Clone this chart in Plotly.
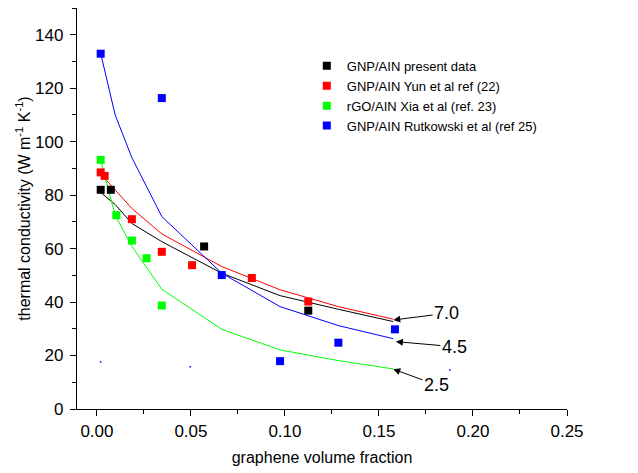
import plotly.graph_objects as go

# ---- measured data ----
black_x = [0.002, 0.0074, 0.057, 0.1124]
black_y = [82.0, 82.0, 60.8, 36.8]
red_x = [0.002, 0.0041, 0.0186, 0.0345, 0.0506, 0.0824, 0.1124]
red_y = [88.5, 87.2, 71.0, 58.8, 53.8, 49.0, 40.2]
green_x = [0.002, 0.0103, 0.0186, 0.0264, 0.0345]
green_y = [93.2, 72.5, 63.0, 56.4, 38.7]
blue_x = [0.002, 0.0345, 0.0664, 0.0974, 0.1284, 0.1585]
blue_y = [132.9, 116.3, 50.1, 17.9, 24.8, 29.8]
dot_x = [0.002, 0.0496, 0.1877]
dot_y = [17.6, 15.8, 14.6]

# model curves
curve_x = [0.002, 0.0097, 0.0186, 0.0345, 0.0664, 0.0974, 0.1284, 0.1576]
curve_black = [81.0, 76.5, 69.4, 62.6, 50.8, 42.4, 37.3, 32.7]
curve_red = [88.0, 82.0, 75.0, 65.5, 53.3, 44.6, 38.3, 33.6]
curve_green = [93.0, 72.5, 60.8, 44.8, 29.8, 22.1, 18.1, 15.0]
curve_blue = [133.0, 110.0, 94.0, 72.0, 50.8, 38.3, 31.2, 26.3]

labels = ["GNP/AIN present data", "GNP/AIN Yun et al ref (22)",
          "rGO/AIN Xia et al (ref. 23)", "GNP/AIN Rutkowski et al (ref 25)"]
colors = ["#000000", "#ff0000", "#00ff00", "#0000ff"]

# annotations: label at text position, arrow pointing to head
ann_labels = ["7.0", "4.5", "2.5"]
ann_text_x = [0.1860, 0.1901, 0.1806]
ann_text_y = [35.8, 23.3, 9.0]
ann_head_x = [0.1576, 0.1590, 0.1576]
ann_head_y = [33.3, 25.2, 14.9]

FONT = "Liberation Sans, Arial, sans-serif"

fig = go.Figure()

for cy, c in zip([curve_black, curve_red, curve_green, curve_blue], colors):
    fig.add_trace(go.Scatter(x=curve_x, y=cy, mode="lines",
                             line=dict(color=c, width=1), showlegend=False,
                             hoverinfo="skip"))

for xs, ys, c, lab in zip([black_x, red_x, green_x, blue_x],
                          [black_y, red_y, green_y, blue_y], colors, labels):
    fig.add_trace(go.Scatter(x=xs, y=ys, mode="markers", name=lab,
                             marker=dict(symbol="square", size=8, color=c,
                                         line=dict(width=0))))

fig.add_trace(go.Scatter(x=dot_x, y=dot_y, mode="markers", showlegend=False,
                         marker=dict(symbol="square", size=1.5, color="#0000ff",
                                     line=dict(width=0))))

for lab, tx, ty, hx, hy in zip(ann_labels, ann_text_x, ann_text_y, ann_head_x, ann_head_y):
    fig.add_annotation(x=hx, y=hy, ax=tx, ay=ty, axref="x", ayref="y",
                       xref="x", yref="y", text=lab, showarrow=True,
                       arrowhead=2, arrowsize=1.4, arrowwidth=1, arrowcolor="black",
                       font=dict(family=FONT, size=18, color="black"))

# page body has an 8px margin, so the figure is 8px smaller and offset
fig.update_layout(
    width=630, height=465,
    margin=dict(l=69, r=71, t=0, b=64),
    paper_bgcolor="white", plot_bgcolor="white",
    font=dict(family=FONT, color="black"),
    legend=dict(x=0.469, y=0.893, xanchor="left", yanchor="top",
                font=dict(family=FONT, size=13, color="black"),
                bgcolor="rgba(0,0,0,0)", itemsizing="trace"),
)

fig.update_xaxes(
    range=[-0.0106, 0.25], showline=True, linecolor="black", linewidth=1.3,
    showgrid=False, zeroline=False, ticks="outside", ticklen=6, tickwidth=1.3,
    tickcolor="black",
    tickvals=[0.0, 0.05, 0.10, 0.15, 0.20, 0.25],
    ticktext=["0.00", "0.05", "0.10", "0.15", "0.20", "0.25"],
    minor=dict(ticks="outside", ticklen=4, tickwidth=1.3, tickcolor="black",
               dtick=0.025, tick0=0),
    tickfont=dict(family=FONT, size=17, color="black"), ticklabelstandoff=0,
    title=dict(text="graphene volume fraction", font=dict(family=FONT, size=16, color="black"),
               standoff=12),
)
fig.update_yaxes(
    range=[0, 150], showline=True, linecolor="black", linewidth=1.3,
    showgrid=False, zeroline=False, ticks="outside", ticklen=6, tickwidth=1.3,
    tickcolor="black",
    tickvals=[0, 20, 40, 60, 80, 100, 120, 140],
    minor=dict(ticks="outside", ticklen=4, tickwidth=1.3, tickcolor="black",
               dtick=10, tick0=0),
    tickfont=dict(family=FONT, size=17, color="black"), ticklabelstandoff=3,
    title=dict(text="thermal conductivity (W m<sup>-1</sup> K<sup>-1</sup>)",
               font=dict(family=FONT, size=16, color="black"), standoff=0),
)

fig.write_html("out.html")
